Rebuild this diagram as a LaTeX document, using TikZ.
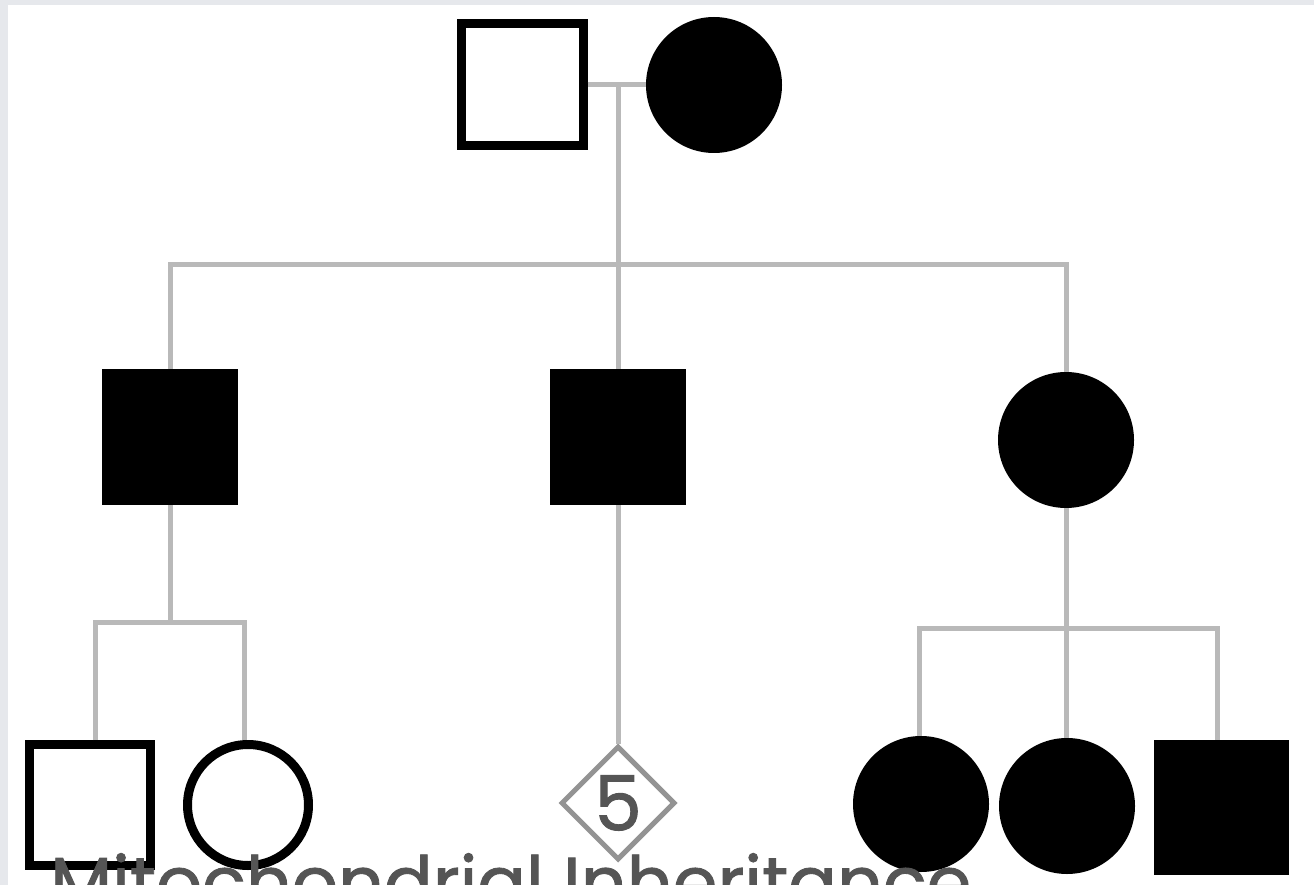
\documentclass[tikz,border=0pt]{standalone}
\usepackage{fontspec}
\setmainfont{Poppins}
\newfontfamily\titlefont{Poppins}[FakeBold=1.2]
\usetikzlibrary{shapes.geometric,calc,positioning}
\definecolor{framegrey}{RGB}{230,232,236}
\definecolor{linegrey}{RGB}{185,185,185}
\definecolor{textgrey}{RGB}{85,85,85}
\tikzset{
    male/.style={rectangle, inner sep=0pt, outer sep=0pt},
    female/.style={circle, inner sep=0pt, outer sep=0pt},
    aff/.style={fill=black, minimum size=136pt},
    unaff/.style={draw=black, line width=9pt, fill=white, minimum size=122pt, outer sep=4.5pt},
    unknown/.style={diamond, aspect=1, draw=gray!85, line width=5pt, minimum size=114pt,
        inner sep=0pt, outer sep=2.5pt, text=textgrey, font=\titlefont\fontsize{76}{76}\selectfont},
    link/.style={draw=linegrey, line width=5pt}
}

\begin{document}
\begin{tikzpicture}[x=1pt,y=-1pt]
                        \useasboundingbox (0,0) rectangle (1314,885);
                        \clip (0,0) rectangle (1314,885);
                        \fill[framegrey] (0,0) rectangle (1314,885);
                        \fill[white] (8,5) rectangle (1314,885);

                        % generation I
                        \node[male, unaff] (father) at (522,85) {};
                        \node[female, aff] (mother) at (714,85) {};

                        % generation II
                        \node[male, aff] (son1) at (170,437) {};
                        \node[male, aff] (son2) at (618,437) {};
                        \node[female, aff] (dau1) at (1066,440) {};

                        % generation III
                        \node[male, unaff, minimum size=121pt] (gson1) at (90,805) {};
                        \node[female, unaff, minimum size=121pt] (gdau1) at (248,805) {};
                        \node[unknown] (gkids) at (618,803) {5};
                        \node[female, aff] (gdau2) at (921,804) {};
                        \node[female, aff] (gdau3) at (1067,806) {};
                        \node[male, aff, minimum size=135pt] (gson2) at (1221,807) {};

                        \coordinate (mate) at (son2.north |- father.east);
                        \coordinate (sibs1) at (618,265);
                        \coordinate (sibs2) at (170,622);
                        \coordinate (sibs3) at (1066,628);

                        \draw[link] (father.east) -- (mother.west);
                        \draw[link] (mate) -- (son2.north);
                        \draw[link] (son1.north) |- (sibs1) -| (dau1.north);

                        \draw[link] (son1.south) -- (sibs2);
                        \draw[link] ([xshift=5pt]gson1.north) |- (sibs2) -| ([xshift=-4pt]gdau1.north);
                        \draw[link] (son2.south) -- (gkids.north);

                        \draw[link] (dau1.south) -- (sibs3) -- (sibs3 |- gdau3.north);
                        \draw[link] ([xshift=-2pt]gdau2.north) |- (sibs3) -| ([xshift=-4pt]gson2.north);

                        \node[anchor=base west, inner sep=0pt, text=textgrey,
                            font=\titlefont\fontsize{72}{76}\selectfont] (title) at (50,908) {Mitochondrial Inheritance};
                    \end{tikzpicture}
\end{document}
